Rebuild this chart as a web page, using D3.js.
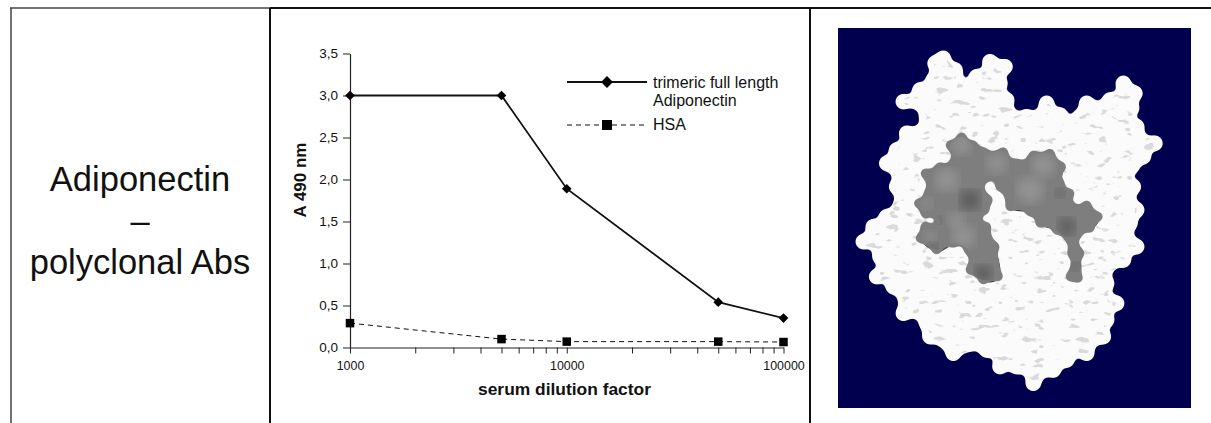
<!DOCTYPE html>
<html>
<head>
<meta charset="utf-8">
<script src="https://cdn.jsdelivr.net/npm/d3@7"></script>
<style>
  html, body { margin: 0; padding: 0; background: #fff; overflow: hidden; }
  text { font-family: "Liberation Sans", Arial, sans-serif; fill: #111; }
</style>
</head>
<body>
<div id="chart"></div>
<script>
var dilution = [1000, 5000, 10000, 50000, 100000];
var adiponectin = [3.0, 3.0, 1.89, 0.54, 0.35];
var hsa = [0.29, 0.10, 0.07, 0.07, 0.065];
var yTicks = [0, 0.5, 1, 1.5, 2, 2.5, 3, 3.5];
var xLabels = [1000, 10000, 100000];
var rowLabel = ["Adiponectin", "\u2013", "polyclonal Abs"];
var legendOne = ["trimeric full length", "Adiponectin"];
var legendTwo = ["HSA"];

var whiteOutline = [[340,115],[375,150],[380,185],[440,170],[480,125],[525,140],[510,190],[530,240],[590,290],[650,250],[690,285],[750,290],[770,250],[840,240],[880,190],[915,220],[905,265],[920,320],[975,370],[940,410],[905,440],[910,500],[920,570],[900,610],[920,680],[880,720],[830,790],[860,850],[830,900],[820,950],[770,1000],[710,1020],[670,1050],[610,1090],[560,1040],[510,1040],[470,990],[370,1000],[300,950],[290,910],[220,880],[190,800],[140,770],[150,710],[100,665],[130,620],[170,590],[200,500],[170,430],[200,390],[230,340],[290,290],[220,245],[270,210],[310,180],[315,130]];
var greyOutline = [[395,350],[430,375],[460,395],[520,395],[560,430],[610,405],[660,400],[695,440],[690,490],[720,520],[725,560],[770,555],[805,590],[780,625],[745,640],[750,700],[745,775],[720,770],[725,700],[680,630],[630,610],[600,575],[540,560],[510,500],[470,470],[455,480],[475,540],[465,570],[440,590],[470,620],[495,680],[505,770],[460,780],[420,750],[415,690],[370,670],[320,690],[270,655],[285,620],[330,610],[315,580],[285,580],[265,550],[295,520],[285,460],[330,440],[370,430],[360,375]];
var greyLights = [[395,375,30],[640,435,35],[400,650,35],[350,480,35],[600,510,40],[500,430,30],[290,550,18],[300,650,18],[380,600,25]];
var greyDarks = [[420,540,30],[460,760,25],[710,620,25],[735,740,12],[310,680,14],[690,520,14],[320,600,12]];

var width = 1211, height = 423;
var svg = d3.select("#chart").append("svg")
    .attr("width", width)
    .attr("height", height)
    .style("display", "block");

// Table frame
var frame = svg.append("g").attr("stroke", "#111").attr("fill", "none");
frame.append("line").attr("x1", 10).attr("x2", 270).attr("y1", 8).attr("y2", 8).attr("stroke", "#444").attr("stroke-width", 1.5);
frame.append("line").attr("x1", 270).attr("x2", 1211).attr("y1", 8).attr("y2", 8).attr("stroke-width", 2);
frame.append("line").attr("x1", 11).attr("x2", 11).attr("y1", 8).attr("y2", height).attr("stroke", "#444").attr("stroke-width", 1.5);
frame.append("line").attr("x1", 270).attr("x2", 270).attr("y1", 8).attr("y2", height).attr("stroke-width", 2);
frame.append("line").attr("x1", 810).attr("x2", 810).attr("y1", 8).attr("y2", height).attr("stroke-width", 2);

// Row label
svg.append("g").selectAll("text")
  .data(rowLabel)
  .join("text")
    .attr("x", 140)
    .attr("y", function(d, i) { return 191 + i * 41.7; })
    .attr("text-anchor", "middle")
    .style("font-size", "34.5px")
    .text(function(d) { return d; });

// Chart
var x = d3.scaleLog()
  .domain([1000, 100000])
  .range([350, 783.5]);
var y = d3.scaleLinear()
  .domain([0, 3.5])
  .range([347.5, 53.5]);

var comma = function(d) { return d3.format(".1f")(d).replace(".", ","); };

var yAxis = svg.append("g")
  .attr("transform", "translate(350,0)")
  .call(d3.axisLeft(y).tickValues(yTicks).tickFormat(comma).tickSize(7).tickSizeOuter(0).tickPadding(5));
var xAxis = svg.append("g")
  .attr("transform", "translate(0,347.5)")
  .call(d3.axisBottom(x)
    .tickFormat(function(d) { return xLabels.indexOf(d) >= 0 ? d : ""; })
    .tickSize(6)
    .tickSizeOuter(0)
    .tickPadding(8));
[yAxis, xAxis].forEach(function(a) {
  a.selectAll("line").attr("stroke", "#222");
  a.select(".domain").attr("stroke", "#222").attr("stroke-width", 1.2);
});
yAxis.selectAll("text").style("font-size", "13.5px");
xAxis.selectAll("text").style("font-size", "12.4px");

svg.append("text")
  .attr("x", 564.5)
  .attr("y", 395)
  .attr("text-anchor", "middle")
  .style("font-size", "17.4px")
  .style("font-weight", "bold")
  .text("serum dilution factor");
svg.append("text")
  .attr("transform", "translate(306,180) rotate(-90)")
  .attr("text-anchor", "middle")
  .style("font-size", "17px")
  .style("font-weight", "bold")
  .text("A 490 nm");

var line = d3.line()
  .x(function(d) { return x(d[0]); })
  .y(function(d) { return y(d[1]); });

var seriesOne = d3.zip(dilution, adiponectin);
var seriesTwo = d3.zip(dilution, hsa);

svg.append("path")
  .datum(seriesTwo)
  .attr("fill", "none")
  .attr("stroke", "#111")
  .attr("stroke-width", 1)
  .attr("stroke-dasharray", "5,4")
  .attr("d", line);
svg.append("path")
  .datum(seriesOne)
  .attr("fill", "none")
  .attr("stroke", "#111")
  .attr("stroke-width", 1.8)
  .attr("d", line);

var diamond = d3.symbol().type(d3.symbolDiamond2).size(60);
svg.append("g").selectAll("path")
  .data(seriesOne)
  .join("path")
    .attr("transform", function(d) { return "translate(" + x(d[0]) + "," + y(d[1]) + ")"; })
    .attr("d", diamond)
    .attr("fill", "#000");
svg.append("g").selectAll("rect")
  .data(seriesTwo)
  .join("rect")
    .attr("x", function(d) { return x(d[0]) - 4.25; })
    .attr("y", function(d) { return y(d[1]) - 4.25; })
    .attr("width", 8.5)
    .attr("height", 8.5)
    .attr("fill", "#000");

// Legend
var legend = svg.append("g");
legend.append("line").attr("x1", 567).attr("x2", 647).attr("y1", 82).attr("y2", 82).attr("stroke", "#111").attr("stroke-width", 1.8);
legend.append("path").attr("transform", "translate(607,82)").attr("d", d3.symbol().type(d3.symbolDiamond2).size(90)).attr("fill", "#000");
legend.append("line").attr("x1", 567).attr("x2", 647).attr("y1", 125).attr("y2", 125).attr("stroke", "#111").attr("stroke-dasharray", "5,4");
legend.append("rect").attr("x", 602).attr("y", 120).attr("width", 10).attr("height", 10).attr("fill", "#000");
legend.selectAll("text.one")
  .data(legendOne)
  .join("text")
    .attr("class", "one")
    .attr("x", 653)
    .attr("y", function(d, i) { return 87.5 + i * 18.3; })
    .style("font-size", "16px")
    .text(function(d) { return d; });
legend.selectAll("text.two")
  .data(legendTwo)
  .join("text")
    .attr("class", "two")
    .attr("x", 653)
    .attr("y", 130)
    .style("font-size", "16px")
    .text(function(d) { return d; });

// Protein picture
var px = function(d) { return d[0] / 3 + 830; };
var py = function(d) { return d[1] / 3 + 20; };
var blob = d3.line().x(px).y(py).curve(d3.curveCatmullRomClosed.alpha(0.5));

var defs = svg.append("defs");
defs.append("clipPath").attr("id", "whiteClip").append("path").attr("d", blob(whiteOutline));
defs.append("clipPath").attr("id", "greyClip").append("path").attr("d", blob(greyOutline));
defs.append("filter").attr("id", "soft").append("feGaussianBlur").attr("stdDeviation", 0.7);
defs.append("filter").attr("id", "softer").append("feGaussianBlur").attr("stdDeviation", 6);

// merges the bumps into one rounded surface
var goo = defs.append("filter").attr("id", "goo");
goo.append("feGaussianBlur").attr("stdDeviation", 3);
goo.append("feColorMatrix").attr("type", "matrix")
  .attr("values", "1 0 0 0 0  0 1 0 0 0  0 0 1 0 0  0 0 0 9 -3.5");
goo.append("feGaussianBlur").attr("stdDeviation", 0.5);

var flecks = defs.append("filter").attr("id", "flecks")
  .attr("x", 0).attr("y", 0).attr("width", 1).attr("height", 1);
flecks.append("feTurbulence").attr("type", "fractalNoise").attr("baseFrequency", "0.09 0.16").attr("numOctaves", 2).attr("seed", 11);
flecks.append("feColorMatrix").attr("type", "matrix")
  .attr("values", "0 0 0 0 0.7  0 0 0 0 0.7  0 0 0 0 0.7  12 0 0 0 -7.6");
flecks.append("feGaussianBlur").attr("stdDeviation", 0.4);

var pic = svg.append("g");
pic.append("rect").attr("x", 838).attr("y", 28).attr("width", 353).attr("height", 380).attr("fill", "#00004f");

var body = pic.append("g").attr("filter", "url(#goo)");
body.append("path").attr("d", blob(whiteOutline)).attr("fill", "#fbfbfb");
body.append("g").selectAll("circle")
  .data(whiteOutline)
  .join("circle")
    .attr("cx", px)
    .attr("cy", py)
    .attr("r", 8)
    .attr("fill", "#fbfbfb");
pic.append("g").attr("clip-path", "url(#whiteClip)")
  .append("rect")
    .attr("x", 838).attr("y", 28).attr("width", 353).attr("height", 380)
    .attr("filter", "url(#flecks)");

// shadow under the patch, then the patch and its soft shading
pic.append("path").attr("d", blob(greyOutline)).attr("fill", "#3c3c3c")
  .attr("transform", "translate(1,2)").attr("filter", "url(#soft)");
var patch = pic.append("g").attr("filter", "url(#goo)");
patch.append("path").attr("d", blob(greyOutline)).attr("fill", "#7e7e7e");
patch.append("g").selectAll("circle")
  .data(greyOutline)
  .join("circle")
    .attr("cx", px)
    .attr("cy", py)
    .attr("r", 5)
    .attr("fill", "#7e7e7e");
var shading = pic.append("g").attr("clip-path", "url(#greyClip)");
shading.selectAll("circle.light")
  .data(greyLights)
  .join("circle")
    .attr("class", "light")
    .attr("cx", px)
    .attr("cy", py)
    .attr("r", function(d) { return d[2] / 3; })
    .attr("fill", "#9c9c9c")
    .attr("opacity", 0.7)
    .attr("filter", "url(#softer)");
shading.selectAll("circle.dark")
  .data(greyDarks)
  .join("circle")
    .attr("class", "dark")
    .attr("cx", px)
    .attr("cy", py)
    .attr("r", function(d) { return d[2] / 3; })
    .attr("fill", "#404040")
    .attr("opacity", 0.6)
    .attr("filter", "url(#softer)");
</script>
</body>
</html>
